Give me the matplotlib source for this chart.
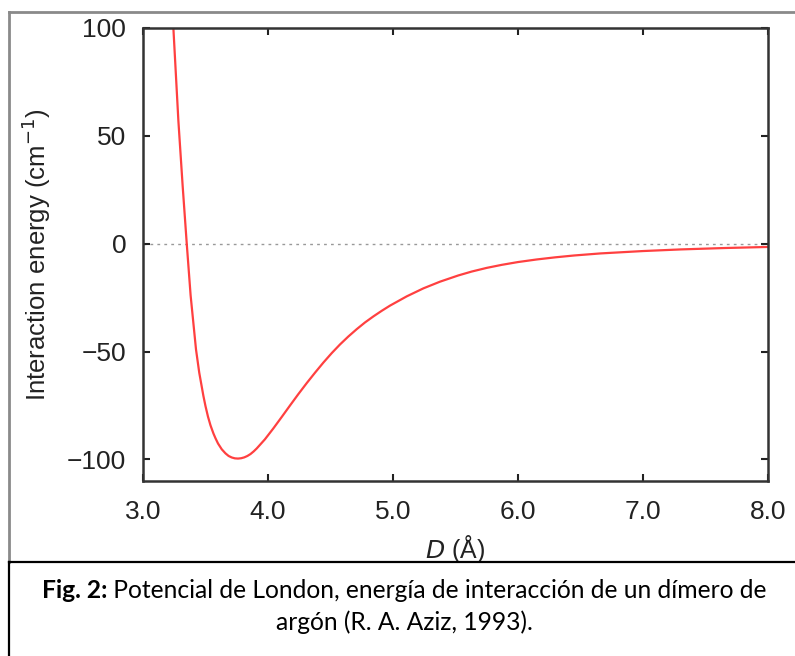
import matplotlib
matplotlib.use("Agg")
import matplotlib.pyplot as plt
from matplotlib.lines import Line2D

# Ar2 interaction energy (D in Angstrom, energy in cm^-1)
dist = [3.243, 3.283, 3.317, 3.35, 3.381, 3.424, 3.45, 3.483, 3.50, 3.52,
        3.54, 3.563, 3.58, 3.60, 3.63, 3.66, 3.685, 3.71, 3.735, 3.76,
        3.785, 3.81, 3.835, 3.86, 3.885, 3.91, 3.975, 4.043, 4.11, 4.176,
        4.243, 4.31, 4.376, 4.443, 4.51, 4.576, 4.643, 4.71, 4.776, 4.843,
        4.91, 4.976, 5.11, 5.243, 5.376, 5.523, 5.63, 5.75, 5.87, 6.0,
        6.15, 6.3, 6.45, 6.66, 7.0, 7.3, 7.65, 8.0]
energy = [100, 57, 27, 0, -24, -49, -59.8, -70.5, -75.3, -80.2,
          -84.2, -87.9, -90.2, -92.6, -95.3, -97.2, -98.4, -99.1, -99.5, -99.6,
          -99.45, -99.05, -98.4, -97.5, -96.3, -94.9, -90.7, -85.6, -80.3, -75.0,
          -69.7, -64.6, -59.8, -55.1, -50.7, -46.7, -43.0, -39.6, -36.5, -33.7,
          -31.1, -28.7, -24.4, -20.7, -17.6, -14.7, -12.9, -11.2, -9.8, -8.5,
          -7.3, -6.3, -5.45, -4.5, -3.4, -2.65, -2.0, -1.5]

xticks = [3.0, 4.0, 5.0, 6.0, 7.0, 8.0]
yticks = [-100, -50, 0, 50, 100]

W, H = 795, 656
fig = plt.figure(figsize=(W / 100, H / 100), dpi=100)
plt.rcParams['font.family'] = ['Liberation Sans', 'DejaVu Sans']

ax = fig.add_axes([143 / W, (H - 481) / H, 625 / W, 453 / H])
ax.axhline(0, color='#999999', lw=1.0, ls=(0, (2, 3)), zorder=1)
ax.plot(dist, energy, color='#ff4040', lw=1.6, zorder=2)

ax.set_xlim(3.0, 8.0)
ax.set_ylim(-110, 100)
ax.set_xticks(xticks)
ax.set_xticklabels([f"{t:.1f}" for t in xticks])
ax.set_yticks(yticks)
ax.set_yticklabels([str(t).replace('-', '\u2212') for t in yticks])
ax.tick_params(axis='both', direction='in', length=5, width=1.5, top=True, right=True,
               labelsize=19, colors='#222222')
ax.tick_params(axis='x', pad=14)
ax.tick_params(axis='y', pad=12)
for s in ax.spines.values():
    s.set_linewidth(1.8)
    s.set_color('#333333')

ax.set_ylabel(r'Interaction energy (cm$^{-1}$)', fontsize=18.5, color='#222222', labelpad=10)
ax.set_xlabel(r'$\mathit{D}$ (Å)', fontsize=18, color='#222222', labelpad=6)

# outer frame and caption box
fig.add_artist(Line2D([9 / W, 1], [1 - 12 / H, 1 - 12 / H], transform=fig.transFigure,
                      color='#8a8a8a', lw=2))
fig.add_artist(Line2D([9 / W, 9 / W], [1 - 12 / H, 1 - 562 / H], transform=fig.transFigure,
                      color='#8a8a8a', lw=2))
fig.add_artist(Line2D([9 / W, 1], [1 - 562 / H, 1 - 562 / H], transform=fig.transFigure,
                      color='black', lw=1.6))
fig.add_artist(Line2D([9 / W, 9 / W], [1 - 562 / H, 0], transform=fig.transFigure,
                      color='black', lw=1.6))

cap_font = ['Lato', 'DejaVu Sans']
cx = 404 / W
t_bold = fig.text(0, 1 - 590 / H, 'Fig. 2:', fontsize=17.7, fontweight='bold',
                  family=cap_font, va='center', ha='left')
t_rest = fig.text(0, 1 - 590 / H, ' Potencial de London, energía de interacción de un dímero de',
                  fontsize=17.7, family=cap_font, va='center', ha='left')
fig.canvas.draw()
r = fig.canvas.get_renderer()
wb = t_bold.get_window_extent(r).width
wr = t_rest.get_window_extent(r).width
x0 = cx * W - (wb + wr) / 2
t_bold.set_x(x0 / W)
t_rest.set_x((x0 + wb) / W)
fig.text(cx, 1 - 622 / H, 'argón (R. A. Aziz, 1993).', fontsize=17.7, family=cap_font,
         va='center', ha='center')

fig.savefig('out.png', dpi=100)
